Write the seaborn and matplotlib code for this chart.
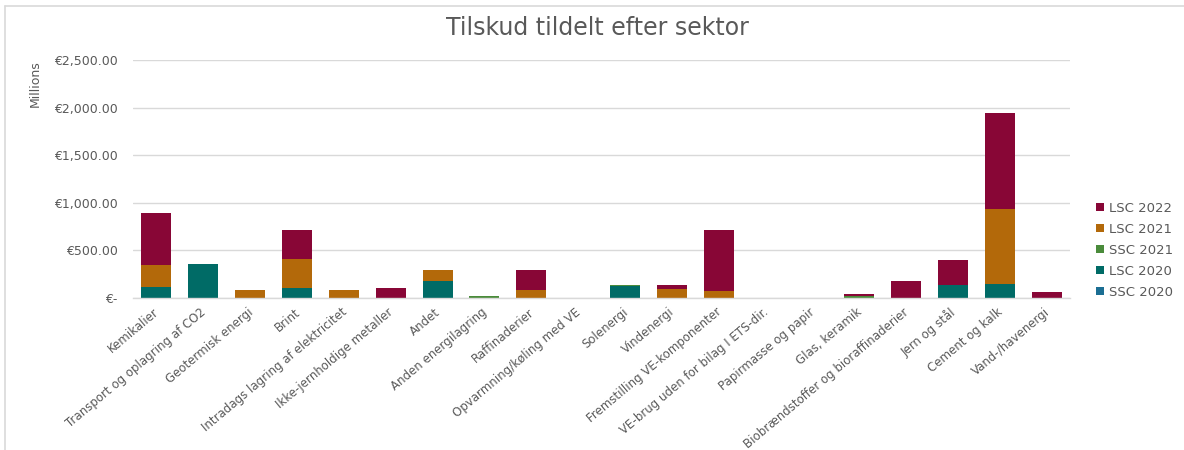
import matplotlib
matplotlib.use("Agg")
import matplotlib.pyplot as plt
import matplotlib.transforms as mtransforms
from matplotlib.lines import Line2D
from matplotlib.patches import Patch
import seaborn as sns
import numpy as np
import pandas as pd

categories = [
    "Kemikalier", "Transport og oplagring af CO2", "Geotermisk energi", "Brint",
    "Intradags lagring af elektricitet", "Ikke-jernholdige metaller", "Andet",
    "Anden energilagring", "Raffinaderier", "Opvarmning/køling med VE",
    "Solenergi", "Vindenergi", "Fremstilling VE-komponenter",
    "VE-brug uden for bilag I ETS-dir.", "Papirmasse og papir", "Glas, keramik",
    "Biobrændstoffer og bioraffinaderier", "Jern og stål", "Cement og kalk",
    "Vand-/havenergi",
]
ssc_2020 = [0, 0, 0, 0, 0, 0, 0, 0, 0, 0, 0, 0, 0, 0, 0, 0, 0, 0, 0, 0]
lsc_2020 = [110, 360, 0, 105, 0, 0, 175, 0, 0, 0, 125, 0, 0, 0, 0, 0, 0, 133, 147, 0]
ssc_2021 = [0, 0, 0, 0, 0, 0, 0, 18, 0, 0, 8, 0, 0, 0, 0, 22, 0, 0, 0, 0]
lsc_2021 = [230, 0, 84, 305, 84, 0, 116, 0, 84, 0, 0, 94, 73, 0, 0, 0, 0, 0, 787, 0]
lsc_2022 = [553, 0, 0, 300, 0, 99, 0, 0, 207, 0, 0, 39, 638, 0, 0, 13, 176, 264, 1006, 56]

series_names = ["SSC 2020", "LSC 2020", "SSC 2021", "LSC 2021", "LSC 2022"]
series_values = [ssc_2020, lsc_2020, ssc_2021, lsc_2021, lsc_2022]
colors = {
    "SSC 2020": "#1B6E93",
    "LSC 2020": "#006B66",
    "SSC 2021": "#4A8B3B",
    "LSC 2021": "#B3690A",
    "LSC 2022": "#880636",
}

title = "Tilskud tildelt efter sektor"
y_label = "Millions"
y_ticks = [0, 500, 1000, 1500, 2000, 2500]
y_tick_labels = ["€-", "€500.00", "€1,000.00", "€1,500.00", "€2,000.00", "€2,500.00"]

sns.set_theme(style="white")
plt.rcParams["font.family"] = ["DejaVu Sans"]
text_color = "#595959"

W, H = 1184, 450
fig = plt.figure(figsize=(W / 100, H / 100), dpi=100)
ax = fig.add_axes([133 / W, 1 - 297.7 / H, (1070 - 133) / W, (297.7 - 60.2) / H])

bottom = np.zeros(len(categories))
for name, vals in zip(series_names, series_values):
    df = pd.DataFrame({"cat": categories, "val": vals})
    sns.barplot(data=df, x="cat", y="val", order=categories, color=colors[name],
                saturation=1, width=0.64, bottom=bottom, ax=ax,
                edgecolor="none", linewidth=0)
    bottom = bottom + np.array(vals, dtype=float)

ax.set_ylim(0, 2500)
ax.set_xlim(-0.5, len(categories) - 0.5)
ax.set_yticks(y_ticks)
ax.set_yticklabels(y_tick_labels, color=text_color, fontsize=9)
ax.yaxis.grid(True, color="#D9D9D9", linewidth=1)
ax.set_axisbelow(True)
for s in ["left", "right", "top"]:
    ax.spines[s].set_visible(False)
ax.spines["bottom"].set_color("#D9D9D9")
ax.spines["bottom"].set_linewidth(1)
ax.tick_params(axis="y", length=0, pad=11)
ax.tick_params(axis="x", length=0, pad=2)
ax.set_xlabel("")
ax.set_ylabel("")

ax.set_xticks(range(len(categories)))
ax.set_xticklabels(categories, rotation=40, ha="right", va="top",
                   rotation_mode="anchor", color=text_color, fontsize=8.5)
offset = mtransforms.ScaledTranslation(-3 / 100, -5 / 100, fig.dpi_scale_trans)
for lbl in ax.get_xticklabels():
    lbl.set_transform(lbl.get_transform() + offset)

fig.text(597 / W, 1 - 28 / H, title, ha="center", va="center",
         fontsize=17, color=text_color)
fig.text(35 / W, 1 - 84 / H, y_label, rotation=90, ha="center", va="center",
         fontsize=9, color=text_color)

handles = [Patch(facecolor=colors[n], edgecolor="none") for n in reversed(series_names)]
leg = fig.legend(handles, list(reversed(series_names)), loc="upper left",
                 bbox_to_anchor=(1084 / W, 1 - 190 / H), frameon=False,
                 fontsize=9.5, handlelength=0.6, handleheight=0.6,
                 handletextpad=0.4, labelspacing=0.6, labelcolor=text_color)

fig.add_artist(Line2D([5 / W, 1], [1 - 6 / H, 1 - 6 / H], color="#D9D9D9", linewidth=1.2))
fig.add_artist(Line2D([5 / W, 5 / W], [0, 1 - 6 / H], color="#D9D9D9", linewidth=1.2))

fig.savefig("out.png", dpi=100, facecolor="white")
